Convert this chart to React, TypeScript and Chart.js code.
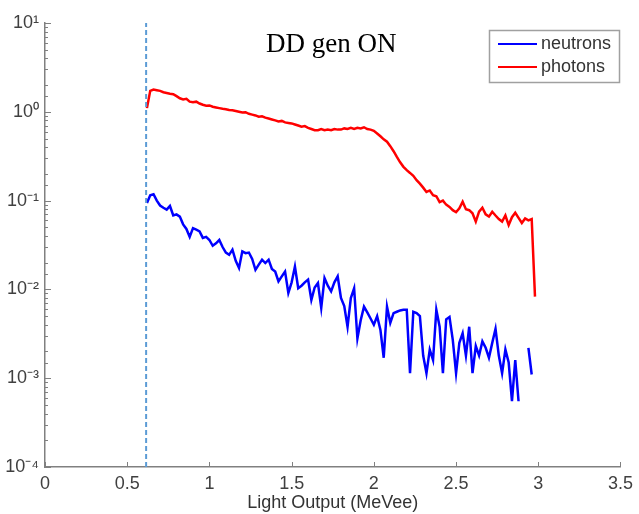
import React, { useEffect, useRef } from "react";
import { Chart, registerables } from "chart.js";

Chart.register(...registerables);

// Light output bins (MeVee)
const lightOutput = [
  0.62, 0.64, 0.66, 0.68, 0.70, 0.72, 0.74, 0.76, 0.78, 0.80,
  0.82, 0.84, 0.86, 0.88, 0.90, 0.92, 0.94, 0.96, 0.98, 1.00,
  1.02, 1.04, 1.06, 1.08, 1.10, 1.12, 1.14, 1.16, 1.18, 1.20,
  1.22, 1.24, 1.26, 1.28, 1.30, 1.32, 1.34, 1.36, 1.38, 1.40,
  1.42, 1.44, 1.46, 1.48, 1.50, 1.52, 1.54, 1.56, 1.58, 1.60,
  1.62, 1.64, 1.66, 1.68, 1.70, 1.72, 1.74, 1.76, 1.78, 1.80,
  1.82, 1.84, 1.86, 1.88, 1.90, 1.92, 1.94, 1.96, 1.98, 2.00,
  2.02, 2.04, 2.06, 2.08, 2.10, 2.12, 2.14, 2.16, 2.18, 2.20,
  2.22, 2.24, 2.26, 2.28, 2.30, 2.32, 2.34, 2.36, 2.38, 2.40,
  2.42, 2.44, 2.46, 2.48, 2.50, 2.52, 2.54, 2.56, 2.58, 2.60,
  2.62, 2.64, 2.66, 2.68, 2.70, 2.72, 2.74, 2.76, 2.78, 2.80,
  2.82, 2.84, 2.86, 2.88, 2.90, 2.92, 2.94, 2.96, 2.98,
];

const neutrons: (number | null)[] = [
  0.094, 0.115, 0.118, 0.100, 0.088, 0.083, 0.079, 0.087, 0.068, 0.070,
  0.066, 0.054, 0.048, 0.039, 0.049, 0.047, 0.045, 0.038, 0.039, 0.036,
  0.031, 0.033, 0.036, 0.030, 0.026, 0.0245, 0.028, 0.021, 0.0174, 0.0268,
  0.0256, 0.026, 0.022, 0.0166, 0.019, 0.0216, 0.0198, 0.0216, 0.017, 0.0159,
  0.0123, 0.014, 0.0159, 0.0091, 0.012, 0.0181, 0.0103, 0.011, 0.012, 0.0129,
  0.0076, 0.0105, 0.0118, 0.0062, 0.0134, 0.011, 0.0095, 0.012, 0.014, 0.008,
  0.0065, 0.0038, 0.008, 0.0103, 0.0028, 0.0045, 0.0064, 0.0055, 0.0047, 0.004,
  0.005, 0.0035, 0.0017, 0.0064, 0.0042, 0.0054, 0.0056, 0.0058, 0.0059, 0.0059,
  0.00114, 0.0056, 0.0054, 0.005, 0.0018, 0.00114, 0.0021, 0.0016, 0.0059, 0.0038,
  0.00114, 0.0046, 0.0049, 0.0027, 0.00114, 0.0025, 0.0032, 0.0018, 0.0038, 0.00114,
  0.0023, 0.0018, 0.0026, 0.0022, 0.0017, 0.0025, 0.0036, 0.0018, 0.00114, 0.0021,
  0.0015, 0.00055, 0.0016, 0.00055, null, null, 0.0022, 0.0011, null,
];

const photons: (number | null)[] = [
  1.10, 1.72, 1.78, 1.75, 1.72, 1.66, 1.63, 1.60, 1.58, 1.50,
  1.42, 1.38, 1.40, 1.30, 1.28, 1.30, 1.24, 1.20, 1.17, 1.18,
  1.14, 1.12, 1.10, 1.08, 1.07, 1.05, 1.04, 1.02, 1.00, 0.98,
  0.99, 0.95, 0.93, 0.91, 0.88, 0.89, 0.86, 0.84, 0.82, 0.80,
  0.78, 0.79, 0.76, 0.75, 0.74, 0.72, 0.70, 0.68, 0.69, 0.66,
  0.64, 0.62, 0.62, 0.64, 0.62, 0.63, 0.62, 0.64, 0.63, 0.63,
  0.65, 0.64, 0.66, 0.64, 0.66, 0.65, 0.67, 0.64, 0.63, 0.61,
  0.57, 0.53, 0.49, 0.46, 0.41, 0.36, 0.31, 0.27, 0.24, 0.22,
  0.205, 0.19, 0.17, 0.155, 0.14, 0.125, 0.13, 0.115, 0.112, 0.096,
  0.10, 0.09, 0.085, 0.078, 0.074, 0.082, 0.097, 0.08, 0.078, 0.072,
  0.058, 0.075, 0.083, 0.07, 0.066, 0.075, 0.068, 0.062, 0.058, 0.068,
  0.053, 0.065, 0.073, 0.064, 0.056, 0.063, 0.06, 0.062, 0.0083,
];

const seriesNames = ["neutrons", "photons"];
const seriesColors = ["#0000ff", "#ff0000"];
const cutoffLight = 0.615;
const xRange = [0, 3.5];
const xStep = 0.5;
const yRange = [1e-4, 10];
const chartTitle = "DD gen ON";
const xAxisTitle = "Light Output (MeVee)";

const SUP: Record<string, string> = {
  "0": "\u2070", "1": "\u00b9", "2": "\u00b2", "3": "\u00b3", "4": "\u2074",
  "5": "\u2075", "6": "\u2076", "7": "\u2077", "8": "\u2078", "9": "\u2079", "-": "\u207b",
};
const toSup = (n: number) => String(n).split("").map((c) => SUP[c] || c).join("");
const isPow10 = (v: number) => {
  const e = Math.log10(v);
  return Math.abs(e - Math.round(e)) < 1e-6;
};

const SANS = '"Liberation Sans", Arial, sans-serif';

const decorPlugin = {
  id: "decor",
  afterDraw(chart: any) {
    const { ctx, chartArea, scales } = chart;
    const ys = scales.y;
    const xs = scales.x;
    ctx.save();
    ctx.strokeStyle = "#808080";
    ctx.lineWidth = 1;
    ys.ticks.forEach((t: any) => {
      const py = Math.round(ys.getPixelForValue(t.value)) + 0.5;
      const len = isPow10(t.value) ? 6 : 3;
      ctx.beginPath();
      ctx.moveTo(chartArea.left, py);
      ctx.lineTo(chartArea.left + len, py);
      ctx.stroke();
    });
    xs.ticks.forEach((t: any) => {
      const px = Math.round(xs.getPixelForValue(t.value)) + 0.5;
      ctx.beginPath();
      ctx.moveTo(px, chartArea.bottom);
      ctx.lineTo(px, chartArea.bottom - 5);
      ctx.stroke();
    });

    // title inside the plot
    ctx.fillStyle = "#000";
    ctx.font = '27px "Liberation Serif", "Times New Roman", serif';
    ctx.textAlign = "left";
    ctx.textBaseline = "alphabetic";
    ctx.fillText(chartTitle, 266, 52);

    // legend box
    const bx = 489.5, by = 30.5, bw = 130, bh = 52;
    ctx.fillStyle = "#ffffff";
    ctx.fillRect(bx, by, bw, bh);
    ctx.strokeStyle = "#a0a0a0";
    ctx.lineWidth = 1.5;
    ctx.strokeRect(bx, by, bw, bh);
    const rows = [44, 67];
    ctx.font = "18px " + SANS;
    ctx.textBaseline = "middle";
    seriesNames.forEach((name, i) => {
      ctx.strokeStyle = seriesColors[i];
      ctx.lineWidth = 2;
      ctx.beginPath();
      ctx.moveTo(498, rows[i]);
      ctx.lineTo(537, rows[i]);
      ctx.stroke();
      ctx.fillStyle = "#333333";
      ctx.fillText(name, 541, rows[i] + 0.5);
    });
    ctx.restore();
  },
};

export default function App() {
  const ref = useRef<HTMLCanvasElement | null>(null);

  useEffect(() => {
    if (!ref.current) return;
    const toPts = (vals: (number | null)[]) =>
      lightOutput.map((x, i) => ({ x, y: vals[i] }));

    const chart = new Chart(ref.current, {
      type: "line",
      data: {
        datasets: [
          {
            label: "cutoff",
            data: [
              { x: cutoffLight, y: yRange[0] },
              { x: cutoffLight, y: yRange[1] },
            ],
            borderColor: "#5b9bd5",
            borderWidth: 2,
            borderDash: [5, 3],
            pointRadius: 0,
          },
          {
            label: seriesNames[0],
            data: toPts(neutrons),
            borderColor: seriesColors[0],
            borderWidth: 2.5,
            pointRadius: 0,
            spanGaps: false,
            tension: 0,
          },
          {
            label: seriesNames[1],
            data: toPts(photons),
            borderColor: seriesColors[1],
            borderWidth: 2.5,
            pointRadius: 0,
            spanGaps: false,
            tension: 0,
          },
        ],
      },
      options: {
        animation: false,
        responsive: false,
        events: [],
        layout: { padding: { top: 23, right: 13, left: 0, bottom: 0 } },
        plugins: {
          legend: { display: false },
          tooltip: { enabled: false },
          title: { display: false },
        },
        scales: {
          x: {
            type: "linear",
            min: xRange[0],
            max: xRange[1],
            ticks: {
              stepSize: xStep,
              color: "#404040",
              font: { family: SANS, size: 18 },
              padding: 6,
              maxRotation: 0,
              callback: (v: any) => String(Math.round(Number(v) * 10) / 10),
            },
            grid: { display: false, drawTicks: false },
            border: { display: true, color: "#808080", width: 1.5 },
            title: {
              display: true,
              text: xAxisTitle,
              color: "#333333",
              font: { family: SANS, size: 18 },
              padding: { top: 0, bottom: 0 },
            },
            afterFit: (s: any) => {
              s.height = 47;
            },
          },
          y: {
            type: "logarithmic",
            min: yRange[0],
            max: yRange[1],
            ticks: {
              autoSkip: false,
              color: "#404040",
              font: { family: SANS, size: 18 },
              padding: 6,
              callback: (v: any) => {
                const n = Number(v);
                if (!isPow10(n)) return "";
                return "10" + toSup(Math.round(Math.log10(n)));
              },
            },
            grid: { display: false, drawTicks: false },
            border: { display: true, color: "#808080", width: 1.5 },
            afterFit: (s: any) => {
              s.width = 45;
            },
          },
        },
      },
      plugins: [decorPlugin],
    });
    return () => chart.destroy();
  }, []);

  return (
    <div style={{ position: "absolute", left: 0, top: 0, width: 639, height: 514, background: "#fff" }}>
      <canvas ref={ref} width={639} height={514} />
    </div>
  );
}
